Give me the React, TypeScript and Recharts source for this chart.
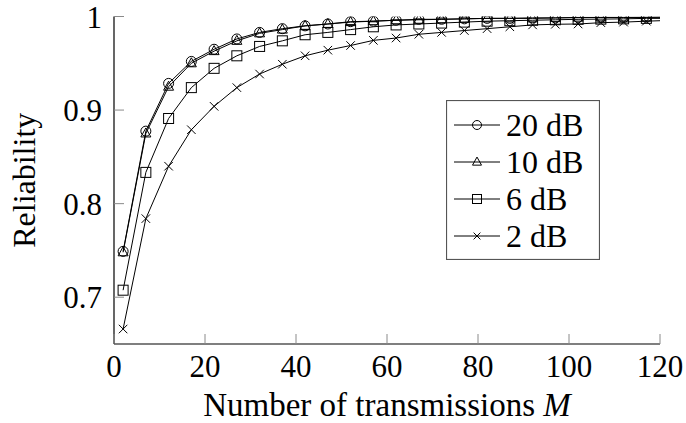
import React from 'react';
import { LineChart, Line, XAxis, YAxis, Legend } from 'recharts';

const transmissions = [2, 7, 12, 17, 22, 27, 32, 37, 42, 47, 52, 57, 62, 67, 72, 77, 82, 87, 92, 97, 102, 107, 112, 117, 120];
const rel20 = [0.749, 0.8775, 0.9285, 0.952, 0.965, 0.976, 0.983, 0.987, 0.99, 0.992, 0.9945, 0.995, 0.996, 0.997, 0.997, 0.9975, 0.998, 0.998, 0.9985, 0.9985, 0.999, 0.999, 0.999, 0.9992, 0.9993];
const rel10 = [0.748, 0.875, 0.925, 0.95, 0.963, 0.974, 0.982, 0.986, 0.99, 0.992, 0.994, 0.995, 0.996, 0.9965, 0.997, 0.9975, 0.998, 0.998, 0.998, 0.9985, 0.9988, 0.999, 0.999, 0.999, 0.9992];
const rel6 = [0.7075, 0.8334, 0.891, 0.924, 0.9446, 0.958, 0.968, 0.974, 0.9805, 0.983, 0.986, 0.989, 0.991, 0.992, 0.993, 0.994, 0.995, 0.9955, 0.996, 0.9965, 0.997, 0.9972, 0.9975, 0.998, 0.998];
const rel2 = [0.666, 0.784, 0.84, 0.879, 0.904, 0.924, 0.9385, 0.949, 0.958, 0.964, 0.969, 0.9745, 0.977, 0.981, 0.983, 0.985, 0.987, 0.989, 0.991, 0.9917, 0.992, 0.9934, 0.994, 0.995, 0.9955];

const xTicks = [0, 20, 40, 60, 80, 100, 120];
const yTicks = [0.7, 0.8, 0.9, 1];
const yTickLabels = ['0.7', '0.8', '0.9', '1'];

const seriesList = [
  { key: 's20', name: '20 dB', marker: 'circle', values: rel20 },
  { key: 's10', name: '10 dB', marker: 'triangle', values: rel10 },
  { key: 's6', name: '6 dB', marker: 'square', values: rel6 },
  { key: 's2', name: '2 dB', marker: 'cross', values: rel2 },
];

const data = transmissions.map((m, i) => {
  const row: any = { m };
  seriesList.forEach((s) => {
    row[s.key] = s.values[i];
  });
  return row;
});

const FONT = "'Liberation Serif', 'Times New Roman', Times, serif";
const textStyle = { fontFamily: FONT };
const TICK_COLOR = '#8a8a8a';

function Marker({ type, cx, cy, size = 5 }: { type: string; cx: number; cy: number; size?: number }) {
  const common = { fill: 'none', stroke: '#000', strokeWidth: 1 };
  if (type === 'circle') return <circle cx={cx} cy={cy} r={size} {...common} />;
  if (type === 'triangle') {
    const s = size;
    return (
      <polygon
        points={`${cx},${cy - s * 1.1} ${cx - s},${cy + s * 0.7} ${cx + s},${cy + s * 0.7}`}
        {...common}
      />
    );
  }
  if (type === 'square') return <rect x={cx - size} y={cy - size} width={size * 2} height={size * 2} {...common} />;
  const c = size * 0.85;
  return (
    <g {...common}>
      <line x1={cx - c} y1={cy - c} x2={cx + c} y2={cy + c} />
      <line x1={cx - c} y1={cy + c} x2={cx + c} y2={cy - c} />
    </g>
  );
}

const makeDot = (type: string) => (props: any) => {
  const { cx, cy, index } = props;
  if (index === transmissions.length - 1 || cx == null || cy == null) {
    return <g key={`d-${type}-${index}`} />;
  }
  return (
    <g key={`d-${type}-${index}`}>
      <Marker type={type} cx={cx} cy={cy} size={5} />
    </g>
  );
};

const BottomTick = (props: any) => {
  const { x, y, payload } = props;
  return (
    <g>
      <line x1={x} x2={x} y1={y} y2={y - 10} stroke={TICK_COLOR} strokeWidth={1} />
      <text x={x} y={y + 33} textAnchor="middle" style={textStyle} fontSize={31} fill="#000">
        {payload.value}
      </text>
    </g>
  );
};

const TopTick = (props: any) => {
  const { x, y } = props;
  return <line x1={x} x2={x} y1={y} y2={y + 10} stroke={TICK_COLOR} strokeWidth={1} />;
};

const LeftTick = (props: any) => {
  const { x, y, payload } = props;
  const idx = yTicks.indexOf(payload.value);
  const label = idx >= 0 ? yTickLabels[idx] : String(payload.value);
  return (
    <g>
      <line x1={x} x2={x + 10} y1={y} y2={y} stroke={TICK_COLOR} strokeWidth={1} />
      <text x={x - 12} y={y + 11} textAnchor="end" style={textStyle} fontSize={31} fill="#000">
        {label}
      </text>
    </g>
  );
};

const RightTick = (props: any) => {
  const { x, y } = props;
  return <line x1={x} x2={x - 10} y1={y} y2={y} stroke={TICK_COLOR} strokeWidth={1} />;
};

const XLabel = (props: any) => {
  const vb = props.viewBox || {};
  const cx = vb.x + vb.width / 2;
  return (
    <text x={cx} y={vb.y + 72} textAnchor="middle" style={textStyle} fontSize={33} fill="#000">
      Number of transmissions <tspan fontStyle="italic">M</tspan>
    </text>
  );
};

const YLabel = (props: any) => {
  const vb = props.viewBox || {};
  const cy = vb.y + vb.height / 2;
  const x = 35;
  return (
    <text
      x={x}
      y={cy}
      transform={`rotate(-90, ${x}, ${cy})`}
      textAnchor="middle"
      style={textStyle}
      fontSize={32}
      fill="#000"
    >
      Reliability
    </text>
  );
};

const LegendBox = () => {
  const rowY = [25, 62, 99, 136];
  return (
    <svg width={154} height={160} style={{ display: 'block' }}>
      <rect x={0.5} y={0.5} width={153} height={159} fill="#fff" stroke="#555" strokeWidth={1.2} />
      {seriesList.map((s, i) => (
        <g key={s.key}>
          <line x1={8} x2={54} y1={rowY[i]} y2={rowY[i]} stroke="#000" strokeWidth={1} />
          <Marker type={s.marker} cx={31} cy={rowY[i]} size={s.marker === 'cross' ? 4 : 4.5} />
          <text x={60} y={rowY[i] + 11} style={textStyle} fontSize={32} fill="#000">
            {s.name}
          </text>
        </g>
      ))}
    </svg>
  );
};

export default function App() {
  return (
    <div style={{ position: 'absolute', left: 0, top: 0, width: 686, height: 423, background: '#fff', fontFamily: FONT }}>
      <LineChart width={686} height={423} data={data} margin={{ top: 16.5, right: 26, bottom: 0, left: 0 }} style={{ fontFamily: FONT }}>
        <XAxis
          xAxisId="bottom"
          dataKey="m"
          type="number"
          domain={[0, 120]}
          ticks={xTicks}
          orientation="bottom"
          height={79}
          tickSize={0}
          tickMargin={0}
          tickLine={false}
          axisLine={{ stroke: '#000', strokeWidth: 1.2 }}
          tick={<BottomTick />}
          interval={0}
          label={<XLabel />}
        />
        <XAxis
          xAxisId="top"
          dataKey="m"
          type="number"
          domain={[0, 120]}
          ticks={xTicks}
          orientation="top"
          height={0}
          tickSize={0}
          tickMargin={0}
          tickLine={false}
          axisLine={{ stroke: '#000', strokeWidth: 1.2 }}
          tick={<TopTick />}
          interval={0}
        />
        <YAxis
          yAxisId="left"
          type="number"
          domain={[0.65, 1]}
          ticks={yTicks}
          orientation="left"
          width={114}
          tickSize={0}
          tickMargin={0}
          tickLine={false}
          axisLine={{ stroke: '#000', strokeWidth: 1.2 }}
          tick={<LeftTick />}
          interval={0}
          allowDataOverflow
          label={<YLabel />}
        />
        <YAxis
          yAxisId="right"
          type="number"
          domain={[0.65, 1]}
          ticks={yTicks}
          orientation="right"
          width={0}
          tickSize={0}
          tickMargin={0}
          tickLine={false}
          axisLine={{ stroke: '#000', strokeWidth: 1.2 }}
          tick={<RightTick />}
          interval={0}
          allowDataOverflow
        />
        {seriesList.map((s) => (
          <Line
            key={s.key}
            xAxisId="bottom"
            yAxisId="left"
            type="linear"
            dataKey={s.key}
            name={s.name}
            stroke="#000"
            strokeWidth={1}
            dot={makeDot(s.marker)}
            activeDot={false}
            isAnimationActive={false}
          />
        ))}
        <Legend
          layout="vertical"
          align="center"
          verticalAlign="middle"
          content={<LegendBox />}
          wrapperStyle={{ position: 'absolute', left: 446, top: 100, width: 154, height: 160 }}
        />
      </LineChart>
    </div>
  );
}
